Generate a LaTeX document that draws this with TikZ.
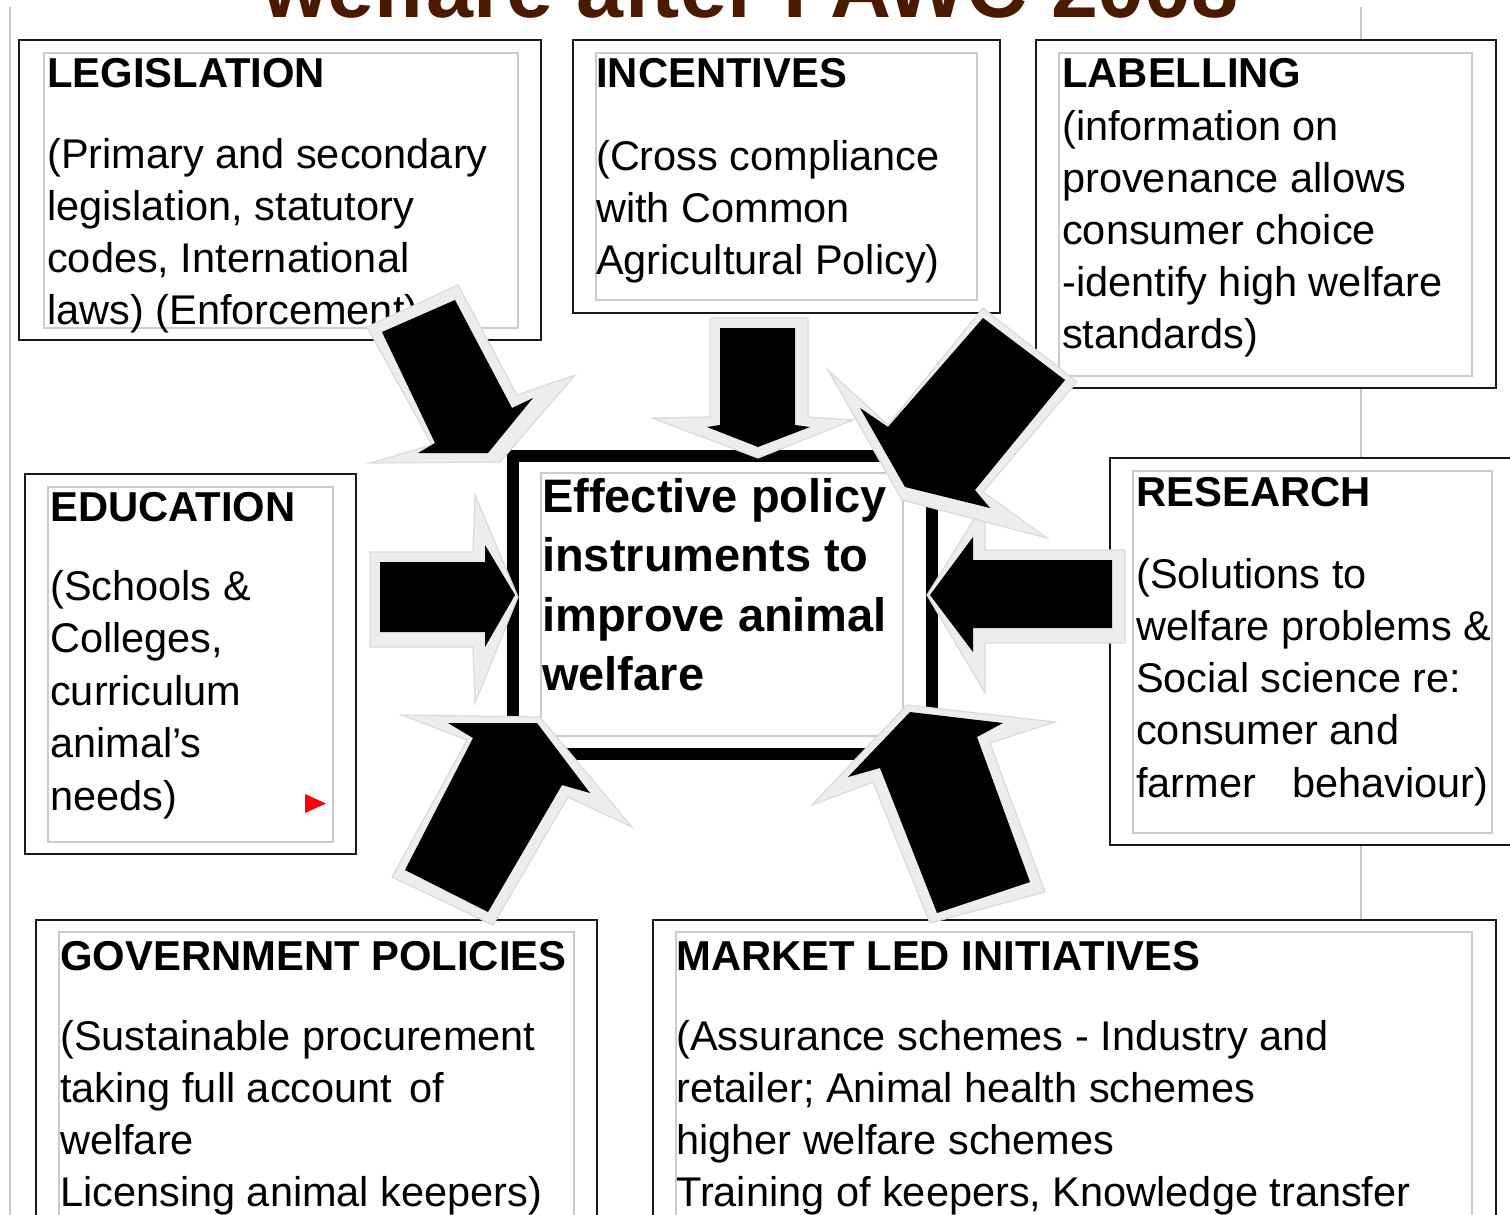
\documentclass[tikz,border=0pt]{standalone}
\usepackage{fontspec}
\setmainfont{Liberation Sans}
\usetikzlibrary{fit}
\definecolor{titlebrown}{RGB}{74,26,0}
\definecolor{glowgray}{RGB}{237,237,237}
\definecolor{glowedge}{RGB}{218,218,218}
\definecolor{pagegray}{RGB}{200,200,200}
\begin{document}
\begin{tikzpicture}[x=1pt,y=-1pt,
  obox/.style={draw=black!90, line width=2.5pt, inner sep=0pt},
  ibox/.style={draw=black!20, line width=2pt, inner sep=0pt},
  txt/.style={anchor=base west, inner sep=0pt, font=\fontsize{41.5}{50}\selectfont},
  ttl/.style={anchor=base west, inner sep=0pt, font=\fontsize{41.8}{50}\selectfont\bfseries},
  ctr/.style={anchor=base west, inner sep=0pt, font=\fontsize{47}{55}\selectfont\bfseries},
  glow/.style={fill=glowgray, draw=glowedge, line width=1.2pt, line join=miter},
  blk/.style={fill=black}
]
\useasboundingbox (0,0) rectangle (1510,1215);

% page guide lines
\draw[pagegray, line width=2pt] (10,7) -- (10,1215);
\draw[pagegray, line width=2pt] (1361,7) -- (1361,40);
\draw[pagegray, line width=2pt] (1361,388) -- (1361,457);
\draw[pagegray, line width=2pt] (1361,845) -- (1361,920);

% title (cut off at the top, as in the reference)
\node[anchor=base west, inner sep=0pt, font=\fontsize{84.5}{90}\selectfont\bfseries, text=titlebrown] (title) at (262,18) {welfare after FAWC 2008};

% ---------- boxes ----------
\node[obox, fit={(19,40) (541,340)}] (legO) {};
\node[ibox, fit={(44,53) (518,328)}] (legI) {};
\node[obox, fit={(573,40) (1000,313)}] (incO) {};
\node[ibox, fit={(596,53) (977,300)}] (incI) {};
\node[obox, fit={(1036,40) (1496,388)}] (labO) {};
\node[ibox, fit={(1059,53) (1472,376)}] (labI) {};
\node[obox, fit={(25,474) (356,854)}] (eduO) {};
\node[ibox, fit={(48,487) (333,842)}] (eduI) {};
\node[obox, fit={(1110,458) (1540,845)}] (resO) {};
\node[ibox, fit={(1133,471) (1492,833)}] (resI) {};
\node[obox, fit={(36,920) (597,1240)}] (govO) {};
\node[ibox, fit={(59,932) (574,1240)}] (govI) {};
\node[obox, fit={(653,920) (1496,1240)}] (mktO) {};
\node[ibox, fit={(676,932) (1472,1240)}] (mktI) {};

% ---------- texts ----------
\node[ttl] (legT) at (47,88) {LEGISLATION};
\foreach \s [count=\i from 0] in {{(Primary and secondary},{legislation, statutory},{codes, International},{laws) (Enforcement)}}
  \node[txt] (leg-\i) at (47,{168+52*\i}) {\s};

\node[ttl] (incT) at (596,88) {INCENTIVES};
\foreach \s [count=\i from 0] in {{(Cross compliance},{with Common},{Agricultural Policy)}}
  \node[txt] (inc-\i) at (596,{170+52*\i}) {\s};

\node[ttl] (labT) at (1062,88) {LABELLING};
\foreach \s [count=\i from 0] in {{(information on},{provenance allows},{consumer choice},{-identify high welfare},{standards)}}
  \node[txt] (lab-\i) at (1062,{140+52*\i}) {\s};

\node[ttl] (eduT) at (50,521) {EDUCATION};
\foreach \s [count=\i from 0] in {{(Schools \&},{Colleges,},{curriculum},{animal’s},{needs)}}
  \node[txt] (edu-\i) at (50,{600+52.5*\i}) {\s};

\node[ttl] (resT) at (1136,506) {RESEARCH};
\foreach \s [count=\i from 0] in {{(Solutions to},{welfare problems \&},{Social science re:},{consumer and},{farmer\hspace{36pt}behaviour)}}
  \node[txt] (res-\i) at (1136,{588+52.3*\i}) {\s};

\node[ttl] (govT) at (60,970) {GOVERNMENT POLICIES};
\foreach \s [count=\i from 0] in {{(Sustainable procurement},{taking full account\hspace{6pt} of},{welfare},{Licensing animal keepers)}}
  \node[txt] (gov-\i) at (60,{1050+52.3*\i}) {\s};

\node[ttl] (mktT) at (676,970) {MARKET LED INITIATIVES};
\foreach \s [count=\i from 0] in {{(Assurance schemes - Industry and},{retailer; Animal health schemes},{higher welfare schemes},{Training of keepers, Knowledge transfer}}
  \node[txt] (mkt-\i) at (676,{1050+52.3*\i}) {\s};

% red marker
\fill[red] (305,794) -- (326,803.5) -- (305,813) -- cycle;

% ---------- centre box ----------
\node[draw=black, line width=12pt, inner sep=0pt, fit={(513,456) (932,754)}] (ctrO) {};
\node[ibox, fit={(541,473) (903,736)}] (ctrI) {};
\foreach \s [count=\i from 0] in {{Effective policy},{instruments to},{improve animal},{welfare}}
  \node[ctr] (ctr-\i) at (542,{512+59.5*\i}) {\s};

% ---------- block arrows ----------
% 1: from legislation
\filldraw[glow] (367,327) -- (432,445) -- (370,463) -- (500,462) -- (575,375) -- (517,395) -- (458,285) -- cycle;
\fill[blk] (382,332) -- (435,443) -- (418,453) -- (488,453) -- (533,398) -- (512,408) -- (455,300) -- cycle;
% 2: from incentives
\filldraw[glow] (710,318) -- (808,318) -- (808,417) -- (853,420) -- (758,458) -- (652,418) -- (710,417) -- cycle;
\fill[blk] (720,328) -- (795,328) -- (795,425) -- (810,427) -- (758,447) -- (707,427) -- (720,425) -- cycle;
% 4: from education
\filldraw[glow] (370,552) -- (473,552) -- (475,495) -- (518,597) -- (475,703) -- (473,647) -- (370,647) -- cycle;
\fill[blk] (380,562) -- (485,562) -- (485,545) -- (515,595) -- (485,647) -- (485,632) -- (380,632) -- cycle;
% 5: from research
\filldraw[glow] (1125,550) -- (985,550) -- (985,502) -- (927,595) -- (985,693) -- (985,643) -- (1125,643) -- cycle;
\fill[blk] (1112,560) -- (973,560) -- (973,537) -- (930,595) -- (973,652) -- (973,628) -- (1112,628) -- cycle;
% 3: from labelling
\filldraw[glow] (983,308) -- (1077,382) -- (983,492) -- (1047,538) -- (902,500) -- (828,370) -- (888,425) -- cycle;
\fill[blk] (983,318) -- (1065,380) -- (975,490) -- (990,508) -- (905,487) -- (860,408) -- (888,427) -- cycle;
% 6: from government policies
\filldraw[glow] (392,877) -- (493,925) -- (568,797) -- (632,827) -- (540,717) -- (402,715) -- (467,740) -- cycle;
\fill[blk] (405,870) -- (488,912) -- (562,785) -- (590,793) -- (537,723) -- (448,723) -- (473,738) -- cycle;
% 7: from market led initiatives
\filldraw[glow] (930,923) -- (1045,892) -- (990,743) -- (1055,722) -- (907,705) -- (812,805) -- (873,782) -- cycle;
\fill[blk] (937,913) -- (1030,882) -- (977,737) -- (1003,723) -- (910,712) -- (848,777) -- (880,768) -- cycle;
\end{tikzpicture}
\end{document}
